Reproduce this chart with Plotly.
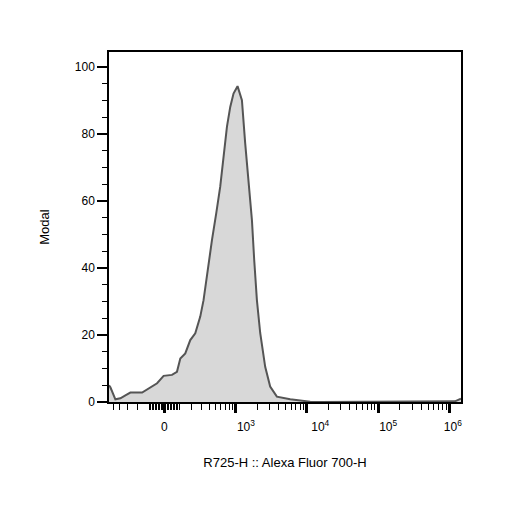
import numpy as np
import plotly.graph_objects as go

# Histogram data: fluorescence intensity (R725-H) vs modal %
intensity = [-580, -553, -465, -389, -323, -266, -156, -106, -47, -4.5, 50, 84, 108, 146,
             188, 235, 288, 327, 362, 408, 445, 516, 592, 663, 743, 829, 924, 1055, 1218,
             1356, 1510, 1688, 1818, 1984, 2208, 2596, 3050, 3788, 5830, 8040, 11100,
             15300, 1015000, 1190000, 1450000]
modal = [5.0, 4.4, 0.8, 1.1, 2.0, 2.8, 2.8, 4.1, 5.6, 7.8, 8.1, 9.0, 13.0, 14.5,
         18.5, 20.5, 25.5, 30.4, 36.4, 42.4, 48.4, 56.3, 64.3, 73.2, 82.2, 88.1, 92.1, 94.3, 90.1,
         77.2, 65.3, 54.3, 42.4, 30.4, 20.6, 10.5, 4.6, 1.6, 0.8, 0.4, 0.1,
         0.0, 0.0, 0.2, 1.0]

major_vals = [0, 1e3, 1e4, 1e5, 1e6]
major_text = ["0",
              "\u00a0" * 6 + "10<sup>3</sup>",
              "\u00a0" * 8 + "10<sup>4</sup>",
              "\u00a0" * 6 + "10<sup>5</sup>",
              "\u00a0" * 2 + "10<sup>6</sup>"]
minor_vals = ([-500, -400, -300, -200, -100] + list(range(-90, 0, 10)) + list(range(10, 100, 10))
              + list(range(100, 1000, 100)) + list(range(2000, 10000, 1000))
              + list(range(20000, 100000, 10000)) + list(range(200000, 1000000, 100000)))
x_limits = [-580, 1450000]
y_limits = [0, 104.5]
y_major = [0, 20, 40, 60, 80, 100]
y_minor = [5, 10, 15, 25, 30, 35, 45, 50, 55, 65, 70, 75, 85, 90, 95]

C = 200.0


def biex(v):
    return np.arcsinh(np.asarray(v, dtype=float) / C)


fig = go.Figure()
fig.add_trace(go.Scatter(
    x=biex(intensity), y=modal, mode="lines", fill="tozeroy",
    fillcolor="rgb(216,216,216)", line=dict(color="rgb(85,85,85)", width=2),
    hoverinfo="skip", showlegend=False))

font = dict(family="Liberation Sans, Arial, sans-serif", size=12, color="black")

fig.update_layout(
    width=522, height=516,
    margin=dict(l=109, r=61, t=52, b=114),
    paper_bgcolor="white", plot_bgcolor="white",
    font=font,
    xaxis=dict(
        range=list(biex(x_limits)), tickmode="array",
        tickvals=list(biex(major_vals)), ticktext=major_text,
        ticks="outside", ticklen=9, tickwidth=3, tickcolor="black",
        ticklabelstandoff=4,
        showgrid=False, zeroline=False, showline=True, linecolor="black",
        linewidth=1.5, mirror=True,
        minor=dict(tickmode="array", tickvals=list(biex(minor_vals)), ticks="outside",
                   ticklen=6, tickwidth=1, tickcolor="black", showgrid=False),
        title=dict(text="R725-H :: Alexa Fluor 700-H", font=dict(size=13), standoff=25),
        tickfont=dict(size=12),
    ),
    yaxis=dict(
        range=y_limits, tickmode="array", tickvals=y_major,
        ticks="outside", ticklen=10, tickwidth=2, tickcolor="black",
        showgrid=False, zeroline=False, showline=True, linecolor="black",
        linewidth=1.5, mirror=True,
        minor=dict(tickmode="array", tickvals=y_minor,
                   ticks="outside", ticklen=5, tickwidth=1, tickcolor="black", showgrid=False),
        title=dict(text="Modal", font=dict(size=13), standoff=22),
        tickfont=dict(size=12),
    ),
)

fig.write_html("out.html", config={"displayModeBar": False},
               post_script="document.body.style.margin='0';document.body.style.padding='0';")
